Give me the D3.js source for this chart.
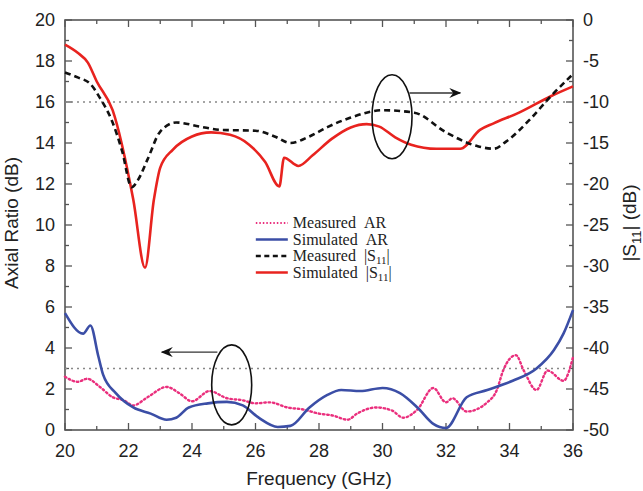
<!DOCTYPE html>
<html>
<head>
<meta charset="utf-8">
<script src="https://cdn.jsdelivr.net/npm/d3@7"></script>
<style>
  body { margin: 0; background: #fff; }
  text { font-family: "Liberation Sans", Arial, sans-serif; fill: #222; }
</style>
</head>
<body>
<script>
// measured / simulated curves
var simS11 = [[20,-3.0],[20.4,-4.0],[20.72,-5.2],[21,-7.5],[21.5,-11.0],[22.15,-21.9],[22.52,-30.2],[22.8,-21.9],
  [23.0,-18.0],[23.4,-15.8],[24.0,-14.2],[24.6,-13.7],[25.2,-14.0],[25.8,-15.2],[26.3,-17.3],[26.75,-20.3],
  [26.9,-16.8],[27.35,-17.8],[27.8,-16.5],[28.4,-14.5],[29.0,-13.1],[29.5,-12.7],[29.9,-13.0],[30.4,-14.3],
  [30.9,-15.2],[31.7,-15.7],[32.45,-15.7],[33.07,-13.4],[33.5,-12.6],[34.3,-11.3],[35.3,-9.3],[36,-8.1]];
var measS11 = [[20,-6.4],[20.4,-7.0],[20.8,-7.8],[21.1,-9.5],[21.5,-12.5],[21.8,-16.0],[22.1,-20.4],[22.3,-19.5],
  [22.6,-17.0],[23.0,-13.6],[23.5,-12.5],[24.25,-13.0],[24.9,-13.4],[26.0,-13.5],[26.6,-14.2],[27.1,-15.0],
  [27.7,-14.2],[28.3,-13.0],[29.0,-11.9],[30.0,-11.0],[31.0,-11.3],[32.0,-13.7],[33.0,-15.4],[33.5,-15.7],
  [33.9,-14.8],[34.65,-12.1],[35.3,-9.3],[36,-6.6]];
var simAR = [[20,5.7],[20.57,4.7],[20.8,5.1],[21.05,3.6],[21.2,2.7],[21.6,1.8],[22.15,1.1],[22.7,0.8],[23.2,0.5],
  [23.5,0.6],[23.9,1.1],[24.5,1.3],[25.1,1.37],[25.6,1.2],[26.1,0.6],[26.7,0.15],[27.1,0.2],[27.7,1.1],
  [28.25,1.7],[28.7,1.95],[29.3,1.9],[30.0,2.05],[30.55,1.8],[31.1,1.1],[31.6,0.3],[32.0,0.1],[32.65,1.6],
  [33.3,1.95],[34.1,2.4],[34.85,3.0],[35.4,3.9],[35.7,4.7],[36,5.85]];
var measAR = [[20,2.6],[20.4,2.35],[20.7,2.5],[21.1,2.1],[21.5,1.6],[21.85,1.45],[22.15,1.2],[22.6,1.6],[23.2,2.1],
  [23.6,1.8],[24.0,1.4],[24.55,1.9],[25.1,1.55],[25.6,1.45],[26.0,1.3],[26.45,1.35],[27.0,1.1],[27.5,1.0],
  [28.0,0.8],[28.45,0.7],[28.9,0.5],[29.2,0.8],[29.8,1.1],[30.3,0.95],[30.65,0.6],[31.1,1.0],[31.6,2.05],
  [32.0,1.35],[32.2,1.55],[32.65,0.9],[33.3,1.35],[33.6,1.95],[33.8,2.9],[34.2,3.65],[34.45,2.9],[34.85,1.95],
  [35.2,2.9],[35.7,2.4],[36,3.55]];

var xTicks = [20,22,24,26,28,30,32,34,36];
var arTicks = [0,2,4,6,8,10,12,14,16,18,20];
var s11Ticks = [0,-5,-10,-15,-20,-25,-30,-35,-40,-45,-50];
var arLimit = 3, s11Limit = -10;

var legendItems = [
  {label: "Measured\u00a0\u00a0AR", color: "#ea2f7d", dash: "1.5,2", width: 1.8},
  {label: "Simulated\u00a0\u00a0AR", color: "#3b4ea6", dash: null, width: 2.6},
  {label: "Measured\u00a0\u00a0|S", sub: "11", tail: "|", color: "#111", dash: "5,3.5", width: 2.4},
  {label: "Simulated\u00a0\u00a0|S", sub: "11", tail: "|", color: "#e8231f", dash: null, width: 2.6}
];

var W = 643, H = 491;
var margin = {top: 20, right: 70, bottom: 61, left: 65};
var width = W - margin.left - margin.right,
    height = H - margin.top - margin.bottom;

var svg = d3.select("body").append("svg")
  .attr("width", W).attr("height", H)
  .append("g")
  .attr("transform", "translate(" + margin.left + "," + margin.top + ")");

var x = d3.scaleLinear().domain([20, 36]).range([0, width]);
var yAR = d3.scaleLinear().domain([0, 20]).range([height, 0]);
var yS = d3.scaleLinear().domain([-50, 0]).range([height, 0]);

// frame
svg.append("rect").attr("width", width).attr("height", height)
  .attr("fill", "none").attr("stroke", "#555").attr("stroke-width", 1.6);

// ticks pointing inward
function minors(a, b, step) { return d3.range(a, b + 1e-9, step); }
var tk = svg.append("g").attr("stroke", "#555").attr("stroke-width", 1.3);
minors(20, 36, 1).forEach(function(v) {
  var len = (v % 2 == 0) ? 7 : 4;
  tk.append("line").attr("x1", x(v)).attr("x2", x(v)).attr("y1", height).attr("y2", height - len);
  tk.append("line").attr("x1", x(v)).attr("x2", x(v)).attr("y1", 0).attr("y2", len);
});
minors(0, 20, 1).forEach(function(v) {
  var len = (v % 2 == 0) ? 7 : 4;
  tk.append("line").attr("x1", 0).attr("x2", len).attr("y1", yAR(v)).attr("y2", yAR(v));
});
minors(-50, 0, 2.5).forEach(function(v) {
  var len = (v % 5 == 0) ? 7 : 4;
  tk.append("line").attr("x1", width).attr("x2", width - len).attr("y1", yS(v)).attr("y2", yS(v));
});

// tick labels
svg.selectAll(".xl").data(xTicks).enter().append("text")
  .attr("x", function(d) { return x(d); }).attr("y", height + 27)
  .attr("text-anchor", "middle").style("font-size", "18px").text(function(d) { return d; });
svg.selectAll(".yl").data(arTicks).enter().append("text")
  .attr("x", -10).attr("y", function(d) { return yAR(d) + 6; })
  .attr("text-anchor", "end").style("font-size", "18px").text(function(d) { return d; });
svg.selectAll(".yr").data(s11Ticks).enter().append("text")
  .attr("x", width + 10).attr("y", function(d) { return yS(d) + 6; })
  .attr("text-anchor", "start").style("font-size", "18px").text(function(d) { return d; });

// axis titles
svg.append("text").attr("x", width / 2).attr("y", height + 55)
  .attr("text-anchor", "middle").style("font-size", "19px").text("Frequency (GHz)");
svg.append("text").attr("transform", "translate(" + (-47) + "," + (height / 2 - 2) + ") rotate(-90)")
  .attr("text-anchor", "middle").style("font-size", "19px").text("Axial Ratio (dB)");
var rt = svg.append("text").attr("transform", "translate(" + (width + 63) + "," + (height / 2 - 2) + ") rotate(-90)")
  .attr("text-anchor", "middle").style("font-size", "19px");
rt.append("tspan").text("|S");
rt.append("tspan").attr("dy", 5).style("font-size", "13px").text("11");
rt.append("tspan").attr("dy", -5).text("| (dB)");

// reference levels
svg.append("line").attr("x1", 0).attr("x2", width).attr("y1", yAR(arLimit)).attr("y2", yAR(arLimit))
  .attr("stroke", "#888").attr("stroke-width", 1.6).attr("stroke-dasharray", "2,4");
svg.append("line").attr("x1", 0).attr("x2", width).attr("y1", yS(s11Limit)).attr("y2", yS(s11Limit))
  .attr("stroke", "#888").attr("stroke-width", 1.6).attr("stroke-dasharray", "2,4");

// curves
var lineAR = d3.line().x(function(d) { return x(d[0]); }).y(function(d) { return yAR(d[1]); }).curve(d3.curveMonotoneX);
var lineS = d3.line().x(function(d) { return x(d[0]); }).y(function(d) { return yS(d[1]); }).curve(d3.curveMonotoneX);

svg.append("path").attr("d", lineAR(measAR)).attr("fill", "none")
  .attr("stroke", legendItems[0].color).attr("stroke-width", 2.4).attr("stroke-dasharray", "1.5,2.8").attr("stroke-linecap", "round");
svg.append("path").attr("d", lineAR(simAR)).attr("fill", "none")
  .attr("stroke", legendItems[1].color).attr("stroke-width", 2.6);
svg.append("path").attr("d", lineS(simS11)).attr("fill", "none")
  .attr("stroke", legendItems[3].color).attr("stroke-width", 2.6);
svg.append("path").attr("d", lineS(measS11)).attr("fill", "none")
  .attr("stroke", legendItems[2].color).attr("stroke-width", 2.6).attr("stroke-dasharray", "6,4");

// ellipses + arrows
var ann = svg.append("g").attr("fill", "none").attr("stroke", "#111").attr("stroke-width", 1.6);
ann.append("ellipse").attr("cx", x(30.3)).attr("cy", yS(-11.8)).attr("rx", 20).attr("ry", 42);
ann.append("ellipse").attr("cx", x(25.25)).attr("cy", yAR(2.2)).attr("rx", 20).attr("ry", 40);

svg.append("defs").append("marker").attr("id", "arr")
  .attr("viewBox", "0 0 12 10").attr("refX", 11).attr("refY", 5)
  .attr("markerWidth", 12).attr("markerHeight", 10).attr("markerUnits", "userSpaceOnUse")
  .attr("orient", "auto")
  .append("path").attr("d", "M0,0 L12,5 L0,10 L4,5 Z").attr("fill", "#111");
svg.append("line").attr("x1", x(30.85)).attr("x2", x(32.45)).attr("y1", yS(-8.9)).attr("y2", yS(-8.9))
  .attr("stroke", "#333").attr("stroke-width", 1.4).attr("marker-end", "url(#arr)");
svg.append("line").attr("x1", x(24.8)).attr("x2", x(23.05)).attr("y1", yAR(3.8)).attr("y2", yAR(3.8))
  .attr("stroke", "#333").attr("stroke-width", 1.4).attr("marker-end", "url(#arr)");

// legend
var lg = svg.selectAll(".legend").data(legendItems).enter().append("g")
  .attr("class", "legend")
  .attr("transform", function(d, i) { return "translate(" + x(26.01) + "," + (203 + i * 16.5) + ")"; });
lg.append("line").attr("x1", 0).attr("x2", 32).attr("y1", 0).attr("y2", 0)
  .attr("stroke", function(d) { return d.color; })
  .attr("stroke-width", function(d) { return d.width; })
  .attr("stroke-dasharray", function(d) { return d.dash; });
var lt = lg.append("text").attr("x", 37).attr("y", 5)
  .style("font-family", "'Liberation Serif', 'Times New Roman', serif").style("font-size", "16px");
lt.append("tspan").text(function(d) { return d.label; });
lt.append("tspan").attr("dy", 3).style("font-size", "11px").text(function(d) { return d.sub || ""; });
lt.append("tspan").attr("dy", -3).text(function(d) { return d.tail || ""; });
</script>
</body>
</html>
